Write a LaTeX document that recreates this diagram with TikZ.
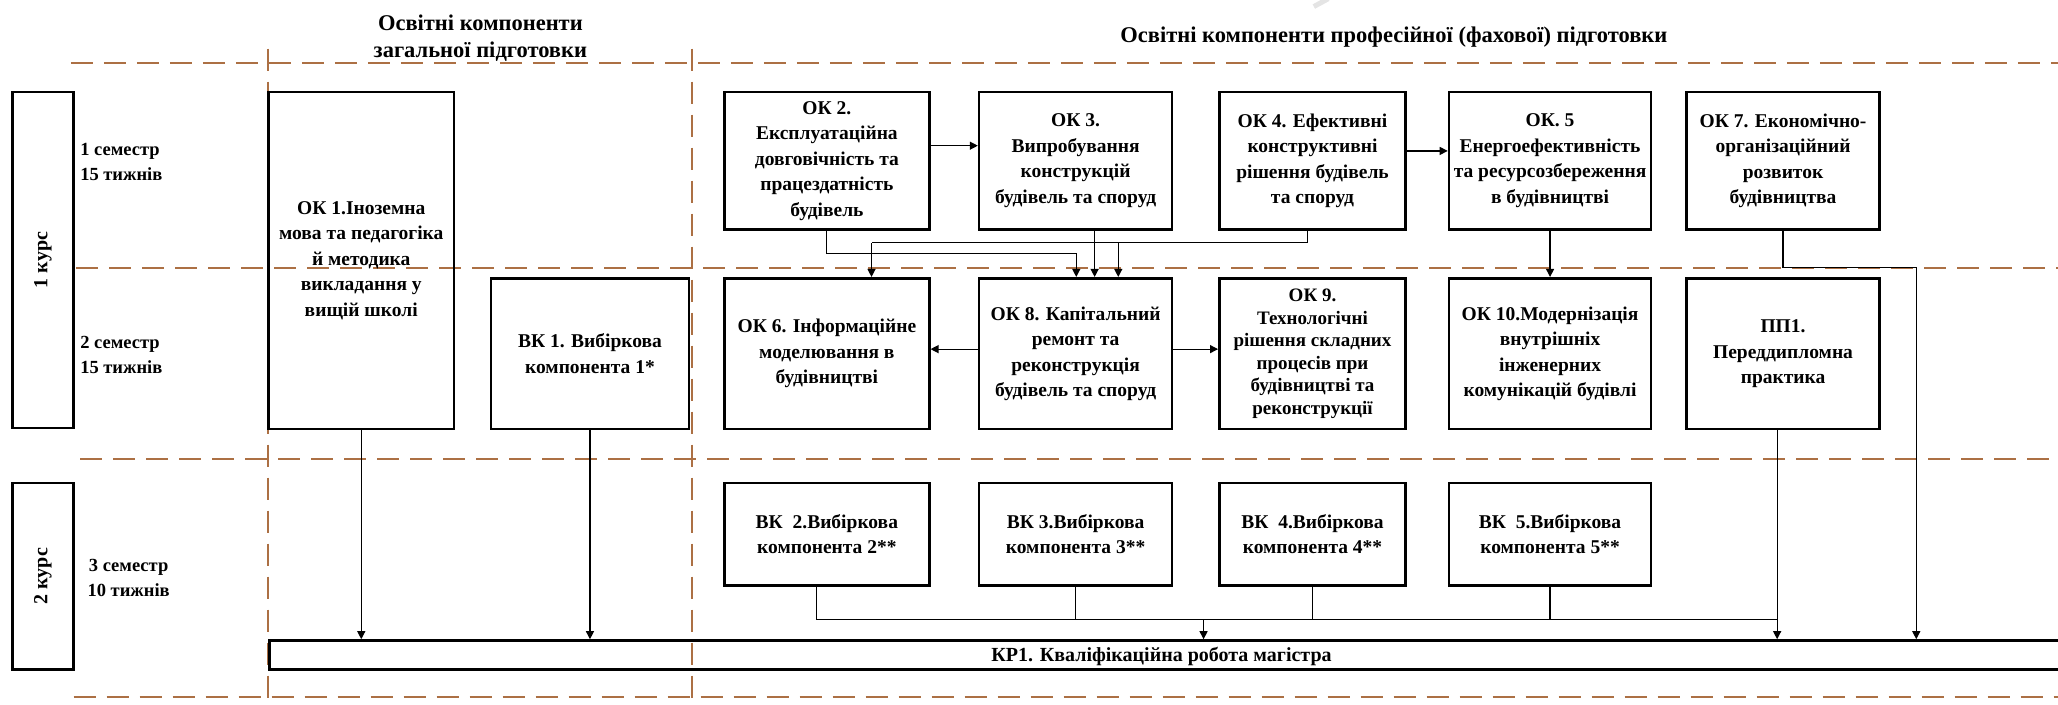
\documentclass[tikz,border=0pt]{standalone}
\usepackage{fontspec}
\setmainfont{Liberation Serif}
\usetikzlibrary{arrows.meta}
\definecolor{dashbrown}{RGB}{172,112,68}
\definecolor{artgray}{RGB}{228,228,228}
\newcommand\mkbox[7][]{\node[box,#1,minimum width={(#4-#2)*1.3125pt},minimum height={(#5-#3)*1.3125pt}] (#6) at ({(#2+#4)/2},{(#3+#5)/2}) {#7};}
\begin{document}
\begin{tikzpicture}[x=1.3125pt,y=-1.3125pt,
  txt/.style={font=\bfseries\fontsize{20}{25.5}\selectfont, align=center, inner sep=0pt},
  box/.style={draw=black, line width=2.6pt, align=center, inner sep=0pt, font=\bfseries\fontsize{19.5}{25.5}\selectfont},
  ttl/.style={font=\bfseries\fontsize{22.5}{26.5}\selectfont, align=center, inner sep=0pt},
  sem/.style={font=\bfseries\fontsize{18.5}{25}\selectfont, align=left, anchor=west, inner sep=0pt},
  semc/.style={font=\bfseries\fontsize{18.5}{25}\selectfont, align=center, inner sep=0pt},
  dsh/.style={draw=dashbrown, line width=2.1pt, dash pattern=on 22pt off 11pt},
  conn/.style={draw=black, line width=1.2pt},
  arr/.style={conn, -{Triangle[length=8pt,width=8pt]}}]
\useasboundingbox (0,0) rectangle (1568,537);
% faint artefact
\draw[artgray, line width=5pt] (1001,5) -- (1012,-1);
% dashed grid
\draw[dsh] (54,48) -- (1568,48);
\draw[dsh] (58,204) -- (1568,204);
\draw[dsh] (61,350) -- (1568,350);
\draw[dsh] (56,531) -- (1568,531);
\draw[dsh] (204.5,37) -- (204.5,537);
\draw[dsh] (527,37) -- (527,537);
% titles
\node[ttl] (t1) at (366,29) {Освітні компоненти\\загальної підготовки};
\node[ttl] (t2) at (1062,28) {Освітні компоненти професійної (фахової) підготовки};
% courses
\mkbox{9.5}{70}{56}{326}{k1}{}
\node[txt, rotate=90] (k1t) at (k1.center) {1 курс};
\mkbox{9.5}{368}{56}{510}{k2}{}
\node[txt, rotate=90] (k2t) at (k2.center) {2 курс};
\node[sem] (s1) at (61,123.5) {1 семестр\\15 тижнів};
\node[sem] (s2) at (61,270.5) {2 семестр\\15 тижнів};
\node[semc] (s3) at (98,440) {3 семестр\\10 тижнів};
% general
\mkbox{204.5}{70}{346}{327}{ok1}{ОК 1.Іноземна\\мова та педагогіка\\й методика\\викладання у\\вищій школі}
\mkbox{374}{212}{525}{327}{vk1}{ВК 1. Вибіркова\\компонента 1*}
% row 1
\mkbox{552}{70}{708}{175}{ok2}{ОК 2.\\Експлуатаційна\\довговічність та\\працездатність\\будівель}
\mkbox{746}{70}{893}{175}{ok3}{ОК 3.\\Випробування\\конструкцій\\будівель та споруд}
\mkbox{929}{70}{1071}{175}{ok4}{ОК 4. Ефективні\\конструктивні\\рішення будівель\\та споруд}
\mkbox{1104}{70}{1258}{175}{ok5}{ОК. 5\\Енергоефективність\\та ресурсозбереження\\в будівництві}
\mkbox{1285}{70}{1432}{175}{ok7}{ОК 7. Економічно-\\організаційний\\розвиток\\будівництва}
% row 2
\mkbox{552}{212}{708}{327}{ok6}{ОК 6. Інформаційне\\моделювання в\\будівництві}
\mkbox{746}{212}{893}{327}{ok8}{ОК 8. Капітальний\\ремонт та\\реконструкція\\будівель та споруд}
\mkbox[font=\bfseries\fontsize{19}{22.5}\selectfont]{929}{212}{1071}{327}{ok9}{ОК 9.\\Технологічні\\рішення складних\\процесів при\\будівництві та\\реконструкції}
\mkbox{1104}{212}{1258}{327}{ok10}{ОК 10.Модернізація\\внутрішніх\\інженерних\\комунікацій будівлі}
\mkbox{1285}{212}{1432}{327}{pp1}{ПП1.\\Переддипломна\\практика}
% row 3
\mkbox{552}{368}{708}{446}{vk2}{ВК~~2.Вибіркова\\компонента 2**}
\mkbox{746}{368}{893}{446}{vk3}{ВК 3.Вибіркова\\компонента 3**}
\mkbox{929}{368}{1071}{446}{vk4}{ВК~~4.Вибіркова\\компонента 4**}
\mkbox{1104}{368}{1258}{446}{vk5}{ВК~~5.Вибіркова\\компонента 5**}
% final bar
\mkbox{205.5}{488}{1580}{510}{kp1}{}
\node[txt] (kp1t) at (885,500) {КР1. Кваліфікаційна робота магістра};
% helper coordinates
\coordinate (b2) at (0,111);
\coordinate (b3) at (0,115);
\coordinate (b1) at (0,266);
\coordinate (a1) at (820,193);
\coordinate (a2) at (834,0);
\coordinate (a3) at (996,185);
\coordinate (a4) at (664,185);
\coordinate (a5) at (852,185);
\coordinate (a6) at (1460,204);
\coordinate (c1) at (0,472);
\coordinate (c2) at (917,472);
\coordinate (v2) at (622,0);
\coordinate (v7) at (1354,0);
% connectors
\draw[arr] (ok2.east |- b2) -- (ok3.west |- b2);
\draw[arr] (ok4.east |- b3) -- (ok5.west |- b3);
\draw[arr] (ok2.south) |- (a1) -- (a1 |- ok8.north);
\draw[arr] (ok3.south -| a2) -- (ok8.north -| a2);
\draw[conn] (ok4.south -| a3) -- (a3) -- (a4);
\draw[arr] (a4) -- (a4 |- ok6.north);
\draw[arr] (a5) -- (a5 |- ok8.north);
\draw[arr] (ok5.south) -- (ok10.north);
\draw[arr] (ok7.south) |- (a6) -- (a6 |- kp1.north);
\draw[arr] (pp1.south -| v7) -- (v7 |- kp1.north);
\draw[arr] (ok8.west |- b1) -- (ok6.east |- b1);
\draw[arr] (ok8.east |- b1) -- (ok9.west |- b1);
\draw[arr] (ok1.south) -- (ok1.south |- kp1.north);
\draw[arr] (vk1.south) -- (vk1.south |- kp1.north);
\draw[conn] (vk2.south -| v2) -- (v2 |- c1) -- (v7 |- c1);
\draw[conn] (vk3.south) -- (vk3.south |- c1);
\draw[conn] (vk4.south) -- (vk4.south |- c1);
\draw[conn] (vk5.south) -- (vk5.south |- c1);
\draw[arr] (c2) -- (c2 |- kp1.north);
\end{tikzpicture}
\end{document}
